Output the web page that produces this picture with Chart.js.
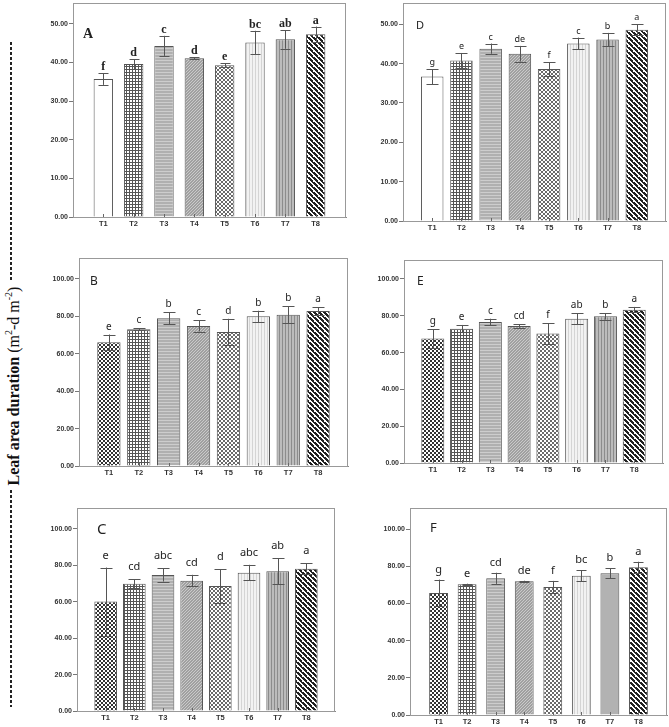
<!DOCTYPE html>
<html>
<head>
<meta charset="utf-8">
<script src="https://cdn.jsdelivr.net/npm/chart.js@4"></script>
<style>
  body { margin: 0; background: #fff; }
  #page { position: relative; width: 669px; height: 727px; overflow: hidden; }
  .panel { position: absolute; }
  #ylab {
    position: absolute; left: 13px; top: 386px;
    font-family: 'Liberation Serif', serif; font-size: 16px; color: #111;
    white-space: nowrap; transform: translate(-50%, -50%) rotate(-90deg);
  }
  #ylab sup { font-size: 10px; }
  .dash {
    position: absolute; left: 10px; width: 2px;
    background: repeating-linear-gradient(to bottom, #222 0 3px, transparent 3px 5px);
  }
</style>
</head>
<body>
<div id="page">
  <div class="dash" style="top:42px;height:240px"></div>
  <div class="dash" style="top:490px;height:217px"></div>
  <div id="ylab"><b>Leaf area duration</b> (m<sup>2</sup>-d m<sup>-2</sup>)</div>
</div>
<script>
// data
const categories = ['T1', 'T2', 'T3', 'T4', 'T5', 'T6', 'T7', 'T8'];
const ticks50 = [0, 10, 20, 30, 40, 50];
const ticks100 = [0, 20, 40, 60, 80, 100];

const valuesA = [35.7, 39.6, 44.3, 41.1, 39.3, 45.2, 46.0, 47.3];
const errA = [1.5, 1.3, 2.6, 0.3, 0.5, 3.0, 2.4, 2.0];
const lettersA = ['f', 'd', 'c', 'd', 'e', 'bc', 'ab', 'a'];

const valuesB = [66.1, 73.1, 79.0, 74.9, 71.7, 80.0, 80.9, 82.9];
const errB = [4.2, 0.5, 3.2, 3.0, 7.0, 3.0, 4.5, 2.0];
const lettersB = ['e', 'c', 'b', 'c', 'd', 'b', 'b', 'a'];

const valuesC = [60.1, 69.9, 74.7, 71.6, 68.7, 76.0, 76.8, 78.2];
const errC = [18.7, 2.5, 3.6, 3.2, 9.3, 4.3, 7.2, 3.0];
const lettersC = ['e', 'cd', 'abc', 'cd', 'd', 'abc', 'ab', 'a'];

const valuesD = [36.7, 40.8, 43.8, 42.5, 38.6, 45.1, 46.1, 48.6];
const errD = [1.9, 1.9, 1.3, 2.0, 1.7, 1.5, 1.7, 1.4];
const lettersD = ['g', 'e', 'c', 'de', 'f', 'c', 'b', 'a'];

const valuesE = [67.6, 73.0, 76.6, 74.5, 70.3, 78.4, 79.7, 83.3];
const errE = [5.0, 2.0, 1.8, 1.0, 5.7, 3.0, 1.8, 1.5];
const lettersE = ['g', 'e', 'c', 'cd', 'f', 'ab', 'b', 'a'];

const valuesF = [65.6, 70.3, 73.5, 71.9, 68.8, 74.9, 76.2, 79.4];
const errF = [7.2, 0.3, 3.0, 0.3, 3.3, 3.0, 2.8, 3.0];
const lettersF = ['g', 'e', 'cd', 'de', 'f', 'bc', 'b', 'a'];

// fill patterns
function makePattern(kind) {
  const c = document.createElement('canvas');
  const g = c.getContext('2d');
  if (kind == 'checker') {
    c.width = 4; c.height = 4;
    g.fillStyle = '#fff'; g.fillRect(0, 0, 4, 4);
    g.fillStyle = '#333'; g.fillRect(0, 0, 2, 2); g.fillRect(2, 2, 2, 2);
  } else if (kind == 'grid') {
    c.width = 3; c.height = 3;
    g.fillStyle = '#fff'; g.fillRect(0, 0, 3, 3);
    g.fillStyle = '#555'; g.fillRect(0, 0, 3, 1); g.fillRect(0, 0, 1, 3);
  } else if (kind == 'hlines') {
    c.width = 3; c.height = 3;
    g.fillStyle = '#b0b0b0'; g.fillRect(0, 0, 3, 3);
    g.fillStyle = '#cdcdcd'; g.fillRect(0, 0, 3, 1);
  } else if (kind == 'diag') {
    c.width = 3; c.height = 3;
    g.fillStyle = '#a0a0a0'; g.fillRect(0, 0, 3, 3);
    g.fillStyle = '#cacaca';
    g.fillRect(0, 2, 1, 1); g.fillRect(1, 1, 1, 1); g.fillRect(2, 0, 1, 1);
  } else if (kind == 'dots') {
    c.width = 4; c.height = 4;
    g.fillStyle = '#fff'; g.fillRect(0, 0, 4, 4);
    g.fillStyle = '#6a6a6a'; g.fillRect(0, 0, 2, 2); g.fillRect(2, 2, 2, 2);
  } else if (kind == 'vlight') {
    c.width = 3; c.height = 3;
    g.fillStyle = '#f2f2f2'; g.fillRect(0, 0, 3, 3);
    g.fillStyle = '#d4d4d4'; g.fillRect(0, 0, 1, 3);
  } else if (kind == 'vlines') {
    c.width = 3; c.height = 3;
    g.fillStyle = '#bcbcbc'; g.fillRect(0, 0, 3, 3);
    g.fillStyle = '#8c8c8c'; g.fillRect(0, 0, 1, 3);
  } else if (kind == 'stripes') {
    c.width = 5; c.height = 5;
    g.fillStyle = '#fff'; g.fillRect(0, 0, 5, 5);
    g.fillStyle = '#222';
    for (let i = 0; i < 5; i++) { g.fillRect(i, i, 2, 1); g.fillRect((i + 4) % 5, i, 1, 1); }
  } else if (kind == 'gray') {
    return '#b2b2b2';
  } else {
    return '#ffffff';
  }
  return g.createPattern(c, 'repeat');
}

const fillsAD = ['white', 'grid', 'hlines', 'diag', 'dots', 'vlight', 'vlines', 'stripes'];
const fillsBCE = ['checker', 'grid', 'hlines', 'diag', 'dots', 'vlight', 'vlines', 'stripes'];
const fillsF = ['checker', 'grid', 'hlines', 'diag', 'dots', 'vlight', 'gray', 'stripes'];

// error bars, letters, frame
const extrasPlugin = {
  id: 'extras',
  afterDatasetsDraw(chart) {
    const o = chart.options.plugins.extras;
    const ctx = chart.ctx;
    const y = chart.scales.y, x = chart.scales.x;
    const ca = chart.chartArea;
    const meta = chart.getDatasetMeta(0);
    ctx.save();
    // frame
    ctx.strokeStyle = '#999';
    ctx.lineWidth = 1;
    ctx.strokeRect(Math.round(ca.left) + 0.5, Math.round(ca.top) + 0.5, Math.round(ca.right - ca.left) - 1, Math.round(ca.bottom - ca.top));
    // inner ticks on x axis
    ctx.strokeStyle = '#666';
    categories.forEach(function (c, i) {
      const px = Math.round(x.getPixelForValue(i + 1)) + 0.5;
      ctx.beginPath(); ctx.moveTo(px, ca.bottom); ctx.lineTo(px, ca.bottom - 3); ctx.stroke();
    });
    // error bars + letters
    meta.data.forEach(function (bar, i) {
      const v = o.values[i], e = o.errs[i];
      const top = y.getPixelForValue(v + e);
      const bot = y.getPixelForValue(v - e);
      const bx = Math.round(bar.x) + 0.5;
      ctx.strokeStyle = '#555';
      ctx.beginPath();
      ctx.moveTo(bx, top); ctx.lineTo(bx, bot);
      ctx.moveTo(bx - o.cap, Math.round(top) + 0.5); ctx.lineTo(bx + o.cap, Math.round(top) + 0.5);
      ctx.moveTo(bx - o.cap, Math.round(bot) + 0.5); ctx.lineTo(bx + o.cap, Math.round(bot) + 0.5);
      ctx.stroke();
      ctx.fillStyle = '#222';
      ctx.font = o.letterFont;
      ctx.textAlign = 'center';
      ctx.textBaseline = 'alphabetic';
      ctx.fillText(o.letters[i], bar.x, top - o.gap);
    });
    // panel letter
    ctx.font = o.titleFont;
    ctx.textAlign = 'left';
    ctx.fillStyle = '#222';
    ctx.fillText(o.title, ca.left + o.tx, ca.top + o.ty);
    ctx.restore();
  }
};

const AXIS_W = 40, PAD = 6, XAXIS_H = 16;

function makePanel(p) {
  const div = document.createElement('div');
  div.className = 'panel';
  div.style.left = (p.L - AXIS_W) + 'px';
  div.style.top = (p.T - PAD) + 'px';
  const w = p.R - p.L + AXIS_W + PAD;
  const h = p.B - p.T + PAD + XAXIS_H;
  div.style.width = w + 'px';
  div.style.height = h + 'px';
  const cv = document.createElement('canvas');
  div.appendChild(cv);
  document.getElementById('page').appendChild(div);

  new Chart(cv, {
    type: 'bar',
    data: {
      datasets: [{
        data: p.values.map(function (v, i) { return { x: i + 1, y: v }; }),
        backgroundColor: p.fills.map(makePattern),
        borderColor: '#555',
        borderWidth: 1,
        categoryPercentage: 1,
        barPercentage: p.barPct
      }]
    },
    options: {
      responsive: true,
      maintainAspectRatio: false,
      animation: false,
      layout: { padding: { top: PAD, right: PAD, left: 0, bottom: 0 } },
      plugins: {
        legend: { display: false },
        tooltip: { enabled: false },
        extras: {
          values: p.values, errs: p.errs, letters: p.letters,
          title: p.title, titleFont: p.titleFont, letterFont: p.letterFont,
          tx: p.tx, ty: p.ty, gap: p.gap, cap: p.cap
        }
      },
      scales: {
        x: {
          type: 'linear', min: 0, max: 9, offset: false,
          afterBuildTicks: function (axis) { axis.ticks = categories.map(function (c, i) { return { value: i + 1 }; }); },
          afterFit: function (axis) { axis.height = XAXIS_H; },
          grid: { display: false, drawTicks: false, offset: false },
          border: { display: true, color: '#888' },
          ticks: {
            padding: 2, autoSkip: false, maxRotation: 0,
            color: '#333', font: { family: 'Liberation Sans', size: 7.5, weight: 'bold' },
            callback: function (v) { return categories[v - 1]; }
          }
        },
        y: {
          min: 0, max: p.yMax,
          afterBuildTicks: function (axis) { axis.ticks = p.yTicks.map(function (v) { return { value: v }; }); },
          afterFit: function (axis) { axis.width = AXIS_W; },
          grid: { drawOnChartArea: false, tickLength: 4, color: '#777' },
          border: { display: true, color: '#888' },
          ticks: {
            padding: 1, color: '#333',
            font: { family: 'Liberation Sans', size: 7, weight: 'bold' },
            callback: function (v) { return v.toFixed(2); }
          }
        }
      }
    },
    plugins: [extrasPlugin]
  });
}

const serifTitle = 'bold 14px "Liberation Serif"';
const serifLetter = 'bold 12px "Liberation Serif"';

makePanel({ L: 73, T: 3, R: 346, B: 217, yMax: 55.4, yTicks: ticks50, values: valuesA, errs: errA, letters: lettersA,
  fills: fillsAD, barPct: 0.64, title: 'A', titleFont: serifTitle, letterFont: serifLetter, tx: 10, ty: 35, gap: 3, cap: 5 });
makePanel({ L: 403, T: 3, R: 666, B: 221, yMax: 55.4, yTicks: ticks50, values: valuesD, errs: errD, letters: lettersD,
  fills: fillsAD, barPct: 0.77, title: 'D', titleFont: '11px "Noto Sans"', letterFont: '9px "Noto Sans"', tx: 13, ty: 26, gap: 4, cap: 6 });
makePanel({ L: 79, T: 258, R: 348, B: 466, yMax: 111.2, yTicks: ticks100, values: valuesB, errs: errB, letters: lettersB,
  fills: fillsBCE, barPct: 0.78, title: 'B', titleFont: '12px "Noto Sans"', letterFont: '10px "Noto Sans"', tx: 11, ty: 27, gap: 5, cap: 6 });
makePanel({ L: 404, T: 260, R: 663, B: 463, yMax: 110.3, yTicks: ticks100, values: valuesE, errs: errE, letters: lettersE,
  fills: fillsBCE, barPct: 0.8, title: 'E', titleFont: '12px "Noto Sans"', letterFont: '10px "Noto Sans"', tx: 13, ty: 25, gap: 5, cap: 6 });
makePanel({ L: 77, T: 508, R: 335, B: 711, yMax: 111.5, yTicks: ticks100, values: valuesC, errs: errC, letters: lettersC,
  fills: fillsBCE, barPct: 0.79, title: 'C', titleFont: '15px "Noto Sans"', letterFont: '11px "Noto Sans"', tx: 20, ty: 26, gap: 9, cap: 6 });
makePanel({ L: 410, T: 508, R: 667, B: 715, yMax: 111.3, yTicks: ticks100, values: valuesF, errs: errF, letters: lettersF,
  fills: fillsF, barPct: 0.66, title: 'F', titleFont: '13px "Noto Sans"', letterFont: '11px "Noto Sans"', tx: 20, ty: 24, gap: 7, cap: 5 });
</script>
</body>
</html>
